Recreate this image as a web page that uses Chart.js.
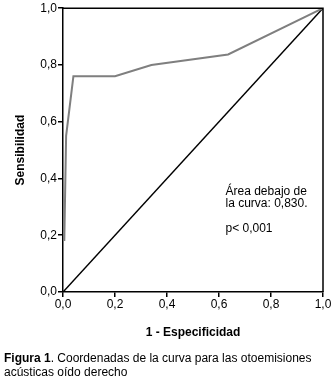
<!DOCTYPE html>
<html>
<head>
<meta charset="utf-8">
<script src="https://cdn.jsdelivr.net/npm/chart.js@4"></script>
<style>
  html, body { margin: 0; padding: 0; background: #fff; }
  #wrap { width: 334px; height: 383px; position: relative; }
</style>
</head>
<body>
<div id="wrap"><canvas id="rocChart" width="334" height="383"></canvas></div>
<script>
// ROC curve coordinates (1 - especificidad, sensibilidad)
const fpr = [0.005, 0.012, 0.04, 0.2, 0.34, 0.635, 1.0];
const tpr = [0.18, 0.55, 0.76, 0.76, 0.80, 0.837, 1.0];
// reference diagonal
const refX = [0, 1];
const refY = [0, 1];
const tickLabels = ["0,0", "0,2", "0,4", "0,6", "0,8", "1,0"];
const noteLines = ["Área debajo de", "la curva: 0,830.", "", "p< 0,001"];

const FONT = "'Liberation Sans', Arial, sans-serif";

const toPoints = (xs, ys) => xs.map((x, i) => ({ x: x, y: ys[i] }));
const tickText = (v) => tickLabels[Math.round(v * 5)];

// box around plot area + annotation + caption
const extras = {
  id: "extras",
  afterDraw(chart) {
    const { ctx, chartArea: a, scales } = chart;
    ctx.save();
    ctx.strokeStyle = "#000";
    ctx.lineWidth = 1.5;
    ctx.beginPath();
    ctx.moveTo(a.left, a.top);
    ctx.lineTo(a.right, a.top);
    ctx.lineTo(a.right, a.bottom);
    ctx.stroke();

    ctx.fillStyle = "#000";
    ctx.font = "12px " + FONT;
    ctx.textBaseline = "middle";
    const nx = scales.x.getPixelForValue(0.625);
    let ny = scales.y.getPixelForValue(0.355);
    noteLines.forEach((t) => {
      if (t) ctx.fillText(t, nx, ny);
      ny += 12.5;
    });

    ctx.font = "bold 12px " + FONT;
    ctx.fillText("Figura 1", 4, 359);
    const w = ctx.measureText("Figura 1").width;
    ctx.font = "12px " + FONT;
    ctx.fillText(". Coordenadas de la curva para las otoemisiones", 4 + w, 359);
    ctx.fillText("acústicas oído derecho", 4, 373);
    ctx.restore();
  },
};

new Chart(document.getElementById("rocChart"), {
  type: "scatter",
  data: {
    datasets: [
      {
        label: "Curva ROC",
        data: toPoints(fpr, tpr),
        showLine: true,
        borderColor: "#7f7f7f",
        borderWidth: 2,
        pointRadius: 0,
        fill: false,
      },
      {
        label: "Referencia",
        data: toPoints(refX, refY),
        showLine: true,
        borderColor: "#000",
        borderWidth: 1.5,
        pointRadius: 0,
        fill: false,
      },
    ],
  },
  options: {
    responsive: false,
    animation: false,
    layout: { padding: { left: 0, top: 7, right: 11, bottom: 40 } },
    plugins: { legend: { display: false }, tooltip: { enabled: false } },
    scales: {
      x: {
        type: "linear",
        min: 0,
        max: 1,
        afterFit: (s) => { s.height = 51; },
        grid: { drawOnChartArea: false, tickLength: 5, color: "#000", lineWidth: 1.5 },
        border: { color: "#000", width: 1.5 },
        ticks: {
          stepSize: 0.2,
          padding: 0,
          color: "#000",
          font: { family: FONT, size: 12 },
          maxRotation: 0,
          callback: tickText,
        },
        title: {
          display: true,
          text: "1 - Especificidad",
          color: "#000",
          font: { family: FONT, size: 12, weight: "bold" },
          padding: { top: 10, bottom: 3 },
        },
      },
      y: {
        type: "linear",
        min: 0,
        max: 1,
        afterFit: (s) => { s.width = 63; },
        grid: { drawOnChartArea: false, tickLength: 5, color: "#000", lineWidth: 1.5 },
        border: { color: "#000", width: 1.5 },
        ticks: {
          stepSize: 0.2,
          padding: 1,
          color: "#000",
          font: { family: FONT, size: 12 },
          callback: tickText,
        },
        title: {
          display: true,
          text: "Sensibilidad",
          color: "#000",
          font: { family: FONT, size: 12, weight: "bold" },
          padding: { top: 13, bottom: 0 },
        },
      },
    },
  },
  plugins: [extras],
});
</script>
</body>
</html>
